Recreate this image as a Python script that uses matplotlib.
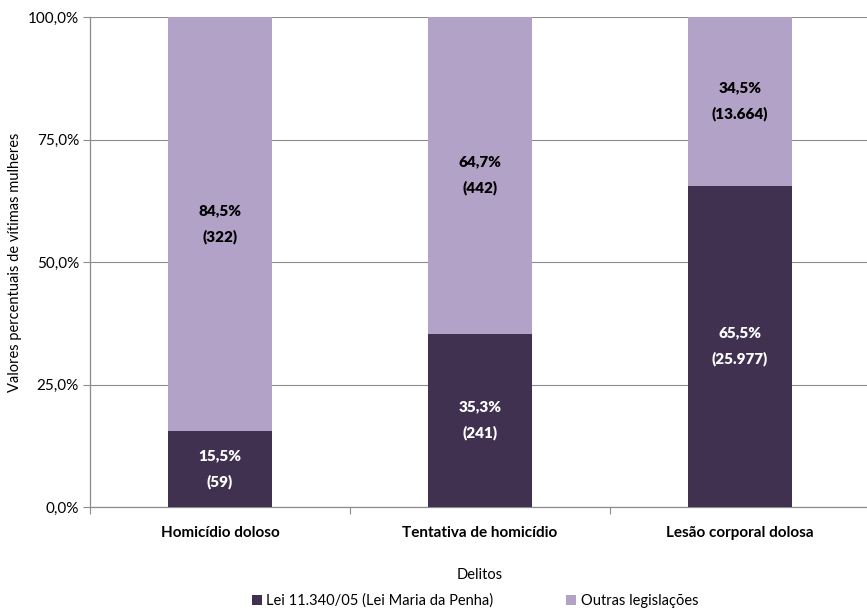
import matplotlib
matplotlib.use("Agg")
import matplotlib.pyplot as plt
from matplotlib.patches import Patch
import numpy as np

plt.rcParams['font.family'] = ['Lato', 'DejaVu Sans']

categories = ["Homicídio doloso", "Tentativa de homicídio", "Lesão corporal dolosa"]
series_names = ["Lei 11.340/05 (Lei Maria da Penha)", "Outras legislações"]
pct_lei = [15.5, 35.3, 65.5]
pct_outras = [84.5, 64.7, 34.5]
count_lei = ["59", "241", "25.977"]
count_outras = ["322", "442", "13.664"]
y_ticks = [0, 25, 50, 75, 100]
y_tick_labels = ["0,0%", "25,0%", "50,0%", "75,0%", "100,0%"]

dark = "#403151"
light = "#B3A2C7"
grid_col = "#8C8C8C"

fig = plt.figure(figsize=(8.67, 6.10), dpi=100)
ax = fig.add_axes([90 / 867, 1 - 507 / 610, 780 / 867, 490 / 610])

x = np.arange(len(categories))
w = 0.4
ax.bar(x, pct_lei, width=w, color=dark, zorder=3)
ax.bar(x, pct_outras, width=w, bottom=pct_lei, color=light, zorder=3)

def fmt(v):
    return f"{v:.1f}".replace(".", ",") + "%"

for i in range(len(categories)):
    yc = pct_lei[i] / 2
    ax.text(x[i], yc, f"{fmt(pct_lei[i])}\n({count_lei[i]})", ha="center", va="center",
            color="white", fontsize=11, fontweight="heavy", linespacing=2.0, zorder=4)
    yc2 = pct_lei[i] + pct_outras[i] / 2
    ax.text(x[i], yc2, f"{fmt(pct_outras[i])}\n({count_outras[i]})", ha="center", va="center",
            color="black", fontsize=11, fontweight="heavy", linespacing=2.0, zorder=4)

ax.set_xlim(-0.5, 2.5)
ax.set_ylim(0, 100)
ax.set_yticks(y_ticks)
ax.set_yticklabels(y_tick_labels, fontsize=11)
ax.yaxis.grid(True, color=grid_col, linewidth=0.8, zorder=0)

ax.set_xticks([-0.5, 0.5, 1.5, 2.5])
ax.set_xticklabels([])
ax.tick_params(axis="x", direction="out", length=5, color=grid_col)
ax.tick_params(axis="y", direction="out", length=5, color=grid_col, pad=3)
for i, c in enumerate(categories):
    ax.text(x[i], -5.3, c, ha="center", va="center", fontsize=11, fontweight="bold",
            transform=ax.transData)

for s in ["top", "right"]:
    ax.spines[s].set_visible(False)
for s in ["left", "bottom"]:
    ax.spines[s].set_color(grid_col)
    ax.spines[s].set_linewidth(0.9)

fig.text(15 / 867, 1 - 262 / 610, "Valores percentuais de vítimas mulheres", rotation=90,
         ha="center", va="center", fontsize=10.5)
fig.text(480 / 867, 1 - 575 / 610, "Delitos", ha="center", va="center", fontsize=10.5)

handles = [Patch(facecolor=dark, edgecolor="none"), Patch(facecolor=light, edgecolor="none")]
fig.legend(handles, series_names, loc="center", bbox_to_anchor=(475 / 867, 1 - 601 / 610),
           ncol=2, frameon=False, fontsize=10.5, handlelength=0.7, handleheight=0.7,
           handletextpad=0.3, columnspacing=5.0)

fig.savefig("out.png", dpi=100)
